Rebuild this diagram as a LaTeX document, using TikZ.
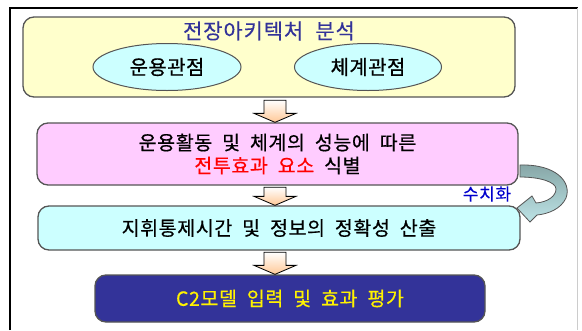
\documentclass[tikz,border=0pt]{standalone}
\usepackage{fontspec}
\setmainfont{Noto Sans CJK KR}[LetterSpace=3,WordSpace=2,FakeBold=0.5]
\newfontfamily\ovalfont{Noto Sans CJK KR}[LetterSpace=2,WordSpace=2,FakeBold=0.7]
\newfontfamily\thinfont{Noto Sans CJK KR}[LetterSpace=4,WordSpace=2.2,FakeBold=0.15]
\usetikzlibrary{calc,shapes.geometric}
\definecolor{yelfill}{HTML}{FFFFCC}
\definecolor{pinkfill}{HTML}{FFCCFF}
\definecolor{cyanfill}{HTML}{CCFFFF}
\definecolor{navyfill}{HTML}{333399}
\definecolor{titleblue}{HTML}{333399}
\definecolor{labelblue}{HTML}{0000CC}
\definecolor{boxline}{HTML}{555555}
\definecolor{peach}{HTML}{FFC896}
\definecolor{tealdark}{HTML}{86A6A6}
\definecolor{teallight}{HTML}{BDE3E6}
\tikzset{
  box/.style={draw=boxline, line width=1.3pt, rounded corners=11pt, inner sep=0pt},
  oval/.style={ellipse, draw=boxline, line width=1pt, fill=cyanfill, inner sep=0pt},
  blockarrow/.style={draw=black, line width=0.8pt, top color=white, bottom color=peach, shading angle=0},
  bodytext/.style={font=\fontsize{19.5pt}{23pt}\selectfont, text=black},
}
\newcommand\downblock[3]{%
  \path[blockarrow] let \p1=(#1), \p2=(#2) in
    (\x1-11pt,\y1-#3) -- (\x1+11pt,\y1-#3) -- (\x1+11pt,\y2+9pt) -- (\x1+21pt,\y2+9pt)
    -- (\x1,\y2) -- (\x1-21pt,\y2+9pt) -- (\x1-11pt,\y2+9pt) -- cycle;}
\begin{document}
\begin{tikzpicture}[x=1pt,y=-1pt]
\useasboundingbox (0,0) rectangle (582,330);
% outer frame
\draw[line width=1.5pt, black] (10,330) -- (10,8) -- (578,8);
\draw[line width=1pt, black!20] (577,8) -- (577,330);
% boxes
\node[box, fill=yelfill, minimum width=492pt, minimum height=80pt] (yel) at (269,57) {};
\node[font=\thinfont\fontsize{21pt}{21pt}\selectfont, text=titleblue] (title) at (269,31) {전장아키텍처 분석};
\node[oval, minimum width=148pt, minimum height=47pt, font=\ovalfont\fontsize{20pt}{20pt}\selectfont] (op) at (167,67) {운용관점};
\node[oval, minimum width=147pt, minimum height=47pt, font=\ovalfont\fontsize{20pt}{20pt}\selectfont] (sys) at (368,67) {체계관점};
\node[box, fill=pinkfill, minimum width=481pt, minimum height=62pt, bodytext, align=center] (pink) at (277.5,154)
  {운용활동 및 체계의 성능에 따른\\\textcolor{red}{전투효과 요소} 식별};
\node[box, fill=cyanfill, minimum width=482pt, minimum height=44pt, bodytext] (cyan) at (279,228)
  {지휘통제시간 및 정보의 정확성 산출};
\node[box, fill=navyfill, minimum width=390pt, minimum height=47pt, bodytext, text=yellow] (navy) at (290,298.5)
  {C2모델 입력 및 효과 평가};
% block arrows
\coordinate (ax) at (275,0);
\downblock{yel.south -| ax}{pink.north -| ax}{2.5pt}
\downblock{pink.south -| ax}{cyan.north -| ax}{1.5pt}
\downblock{cyan.south -| ax}{navy.north -| ax}{1.5pt}
% curved arrow
\path[draw=boxline, line width=0.8pt, top color=tealdark, bottom color=teallight]
  (520,165) .. controls (556,164) and (572,182) .. (566,198)
  .. controls (561,209) and (548,214) .. (537,215)
  -- (530,222) -- (517,208) -- (532,196) -- (536,203)
  .. controls (548,202) and (556,196) .. (556,189)
  .. controls (556,182) and (540,177) .. (520,177) -- cycle;
\node[font=\thinfont\fontsize{17pt}{17pt}\selectfont, text=labelblue] (num) at (487,194) {수치화};
\end{tikzpicture}
\end{document}
